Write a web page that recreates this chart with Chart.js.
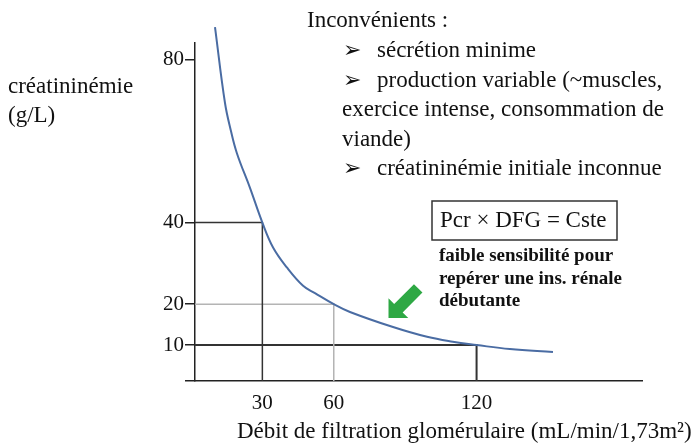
<!doctype html>
<html lang="fr">
  <head>
    <meta charset="utf-8">
    <title>Créatininémie et DFG</title>
    <script src="https://cdn.jsdelivr.net/npm/chart.js"></script>
    <style>
      body { margin: 0; background: #fff; }
    </style>
  </head>
  <body>
    <canvas id="chart" width="695" height="444"></canvas>

    <script>
    // curve (DFG -> créatininémie)
    const dfgValues = [10.1, 14.3, 16.7, 19.3, 24.8, 30, 34.5, 40.3, 47.1, 52.1, 60, 66.8, 84.9, 99.2, 110, 120, 134, 152.1];
    const pcrValues = [87.9, 69.3, 62.7, 57.0, 48.5, 40, 33.9, 29.0, 24.5, 22.7, 20, 18.1, 14.4, 12.0, 10.8, 10, 9.0, 8.3];

    // the three reference points (x, y) shown with guide lines
    const guideDfg = [30, 60, 120];
    const guidePcr = [40, 20, 10];

    const xTickValues = [30, 60, 120];
    const yTickValues = [10, 20, 40, 80];

    const xMin = 1.7, xMax = 189.5;
    const yMin = 1.18, yMax = 84;

    const serif = '"Liberation Serif", "Times New Roman", serif';
    const guideColors = ['#333333', '#b4b4b4', '#333333'];
    const guideWidths = [1.5, 1.5, 2];

    const curve = dfgValues.map((x, i) => ({ x: x, y: pcrValues[i] }));

    const guideSets = guideDfg.map((x, i) => ({
      data: [{ x: xMin, y: guidePcr[i] }, { x: x, y: guidePcr[i] }, { x: x, y: yMin }],
      borderColor: guideColors[i],
      borderWidth: guideWidths[i],
      pointRadius: 0,
      tension: 0,
      order: 2
    }));

    // texts, box and green arrow
    const notes = {
      id: 'notes',
      afterDraw(chart) {
        const c = chart.ctx;
        c.save();
        c.fillStyle = '#111';
        c.textBaseline = 'middle';
        c.textAlign = 'left';

        c.font = '23px ' + serif;
        c.fillText('créatininémie', 8, 87);
        c.fillText('(g/L)', 8, 116);

        c.fillText('Inconvénients :', 307, 21);
        c.fillText('sécrétion minime', 377, 51);
        c.fillText('production variable (~muscles,', 377, 81);
        c.fillText('exercice intense, consommation de', 342, 110);
        c.fillText('viande)', 342, 140);
        c.fillText('créatininémie initiale inconnue', 377, 169);
        c.font = '22px "DejaVu Sans", sans-serif';
        [51, 81, 169].forEach(y => c.fillText('➢', 343, y));

        c.font = '23px ' + serif;
        c.fillText('Débit de filtration glomérulaire (mL/min/1,73m²)', 237, 432);

        // formula box
        c.strokeStyle = '#333';
        c.lineWidth = 1.5;
        c.strokeRect(432, 201, 185, 39);
        c.fillText('Pcr × DFG = Cste', 440, 221);

        c.font = 'bold 19px ' + serif;
        c.fillText('faible sensibilité pour', 439, 256);
        c.fillText('repérer une ins. rénale', 439, 279);
        c.fillText('débutante', 439, 301);

        // green arrow pointing at the curve
        const tx = chart.scales.x.getPixelForValue(83);
        const ty = chart.scales.y.getPixelForValue(16.6);
        c.translate(tx, ty);
        c.rotate(-Math.PI / 4);
        c.beginPath();
        c.moveTo(0, 0);
        c.lineTo(14, -14);
        c.lineTo(14, -6);
        c.lineTo(42, -6);
        c.lineTo(42, 6);
        c.lineTo(14, 6);
        c.lineTo(14, 14);
        c.closePath();
        c.fillStyle = '#2ea844';
        c.fill();
        c.restore();
      }
    };

    new Chart(document.getElementById('chart'), {
      type: 'line',
      data: {
        datasets: [{
          data: curve,
          borderColor: '#4a6ca3',
          borderWidth: 2,
          pointRadius: 0,
          tension: 0.4,
          clip: false,
          order: 1
        }].concat(guideSets)
      },
      options: {
        responsive: false,
        animation: false,
        layout: { padding: { top: 43, right: 53, left: 0, bottom: 0 } },
        plugins: { legend: { display: false }, tooltip: { enabled: false } },
        scales: {
          x: {
            type: 'linear',
            min: xMin,
            max: xMax,
            afterBuildTicks: s => { s.ticks = xTickValues.map(v => ({ value: v })); },
            afterFit: s => { s.height = 63; },
            grid: { display: false },
            border: { display: true, color: '#222', width: 1.5 },
            ticks: { color: '#111', padding: 2, maxRotation: 0, font: { family: serif, size: 21 } }
          },
          y: {
            type: 'linear',
            min: yMin,
            max: yMax,
            afterBuildTicks: s => { s.ticks = [yMin].concat(yTickValues).map(v => ({ value: v })); },
            afterFit: s => { s.width = 195; },
            grid: { drawOnChartArea: false, drawTicks: true, tickLength: 10, color: '#222', lineWidth: 1.5 },
            border: { display: true, color: '#222', width: 1.5 },
            ticks: {
              color: '#111',
              padding: 1,
              font: { family: serif, size: 21 },
              callback: v => (yTickValues.includes(v) ? String(v) : '')
            }
          }
        }
      },
      plugins: [notes]
    });
    </script>
  </body>
</html>
